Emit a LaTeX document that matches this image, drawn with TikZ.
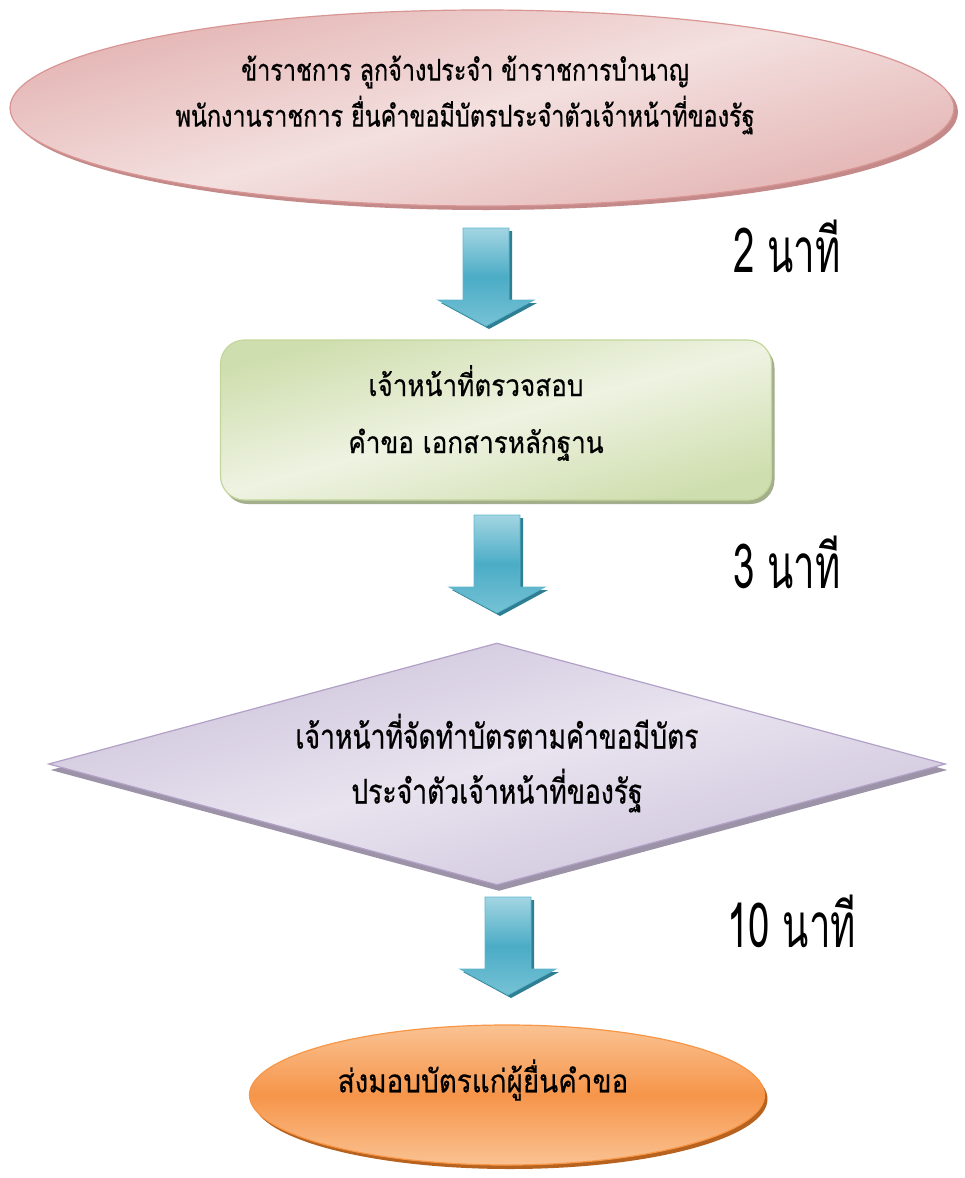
\documentclass[tikz,border=0pt]{standalone}
\usepackage{fontspec}
\newfontfamily\thaiA[Script=Thai,FakeStretch=0.78,FakeBold=0.6]{Loma}
\newfontfamily\thaiB[Script=Thai,FakeStretch=0.87,FakeBold=0.4]{Loma}
\newfontfamily\thaiC[Script=Thai,FakeStretch=0.62]{Loma}
\usetikzlibrary{shapes.geometric,shadows,calc}
\definecolor{roseedge}{HTML}{D99594}
\definecolor{roselight}{HTML}{F3E0DF}
\definecolor{rosemid}{HTML}{E3B3B2}
\definecolor{roseshadow}{HTML}{C48A89}
\definecolor{greenedge}{HTML}{C3D69B}
\definecolor{greenlight}{HTML}{EEF3E2}
\definecolor{greenmid}{HTML}{CFDEAE}
\definecolor{greenshadow}{HTML}{A3AF8C}
\definecolor{purpedge}{HTML}{B2A1C7}
\definecolor{purplight}{HTML}{E8E3EF}
\definecolor{purpmid}{HTML}{CCC1DA}
\definecolor{purpshadow}{HTML}{9D93A9}
\definecolor{orgedge}{HTML}{F79646}
\definecolor{orglight}{HTML}{FAC292}
\definecolor{orgmid}{HTML}{F6954A}
\definecolor{orgshadow}{HTML}{B8621F}
\definecolor{arrlight}{HTML}{A3D5E2}
\definecolor{arrmid}{HTML}{4BACC6}
\definecolor{arrlow}{HTML}{76C2D5}
\definecolor{arredge}{HTML}{5FB6CC}
\definecolor{arrshadow}{HTML}{2E7F93}
\tikzset{
  base/.style={inner sep=0pt, line width=1.2pt},
  topell/.style={base, ellipse, draw=roseedge, minimum width=944pt, minimum height=196pt,
    top color=rosemid, bottom color=rosemid, middle color=roselight, shading angle=15,
    drop shadow={shadow xshift=4pt, shadow yshift=-4pt, fill=roseshadow, opacity=1}},
  chkbox/.style={base, rectangle, rounded corners=24pt, draw=greenedge, minimum width=551pt, minimum height=160pt,
    top color=greenmid, bottom color=greenmid, middle color=greenlight, shading angle=15,
    drop shadow={shadow xshift=3pt, shadow yshift=-4pt, fill=greenshadow, opacity=1}},
  makebox/.style={base, diamond, draw=purpedge, minimum width=897pt, minimum height=242pt,
    top color=purpmid, bottom color=purpmid, middle color=purplight, shading angle=15,
    drop shadow={shadow xshift=2pt, shadow yshift=-6pt, fill=purpshadow, opacity=1}},
  endell/.style={base, ellipse, draw=orgedge, minimum width=515pt, minimum height=140pt,
    top color=orglight, bottom color=orglight, middle color=orgmid,
    drop shadow={shadow xshift=3pt, shadow yshift=-4pt, fill=orgshadow, opacity=1}},
  txtTop/.style={inner sep=0pt, align=center, font=\thaiA\fontsize{30}{46}\selectfont},
  txtDia/.style={inner sep=0pt, align=center, font=\thaiA\fontsize{34}{55}\selectfont},
  txtB/.style={inner sep=0pt, align=center, font=\thaiB\fontsize{30}{57}\selectfont},
  txtEnd/.style={inner sep=0pt, align=center, font=\thaiB\fontsize{32}{40}\selectfont},
  timelbl/.style={inner sep=0pt, anchor=base west, font=\thaiC\fontsize{62}{66}\selectfont},
  blockarrow/.pic={
    \fill[arrshadow] (-20,3) -- (26,3) -- (26,75) -- (51,75) -- (3,101) -- (-45,75) -- (-20,75) -- cycle;
    \path[shade, top color=arrlight, bottom color=arrlow, middle color=arrmid, draw=arredge, line width=0.8pt]
      (-23,0) -- (23,0) -- (23,72) -- (48,72) -- (0,98) -- (-48,72) -- (-23,72) -- cycle;
  }
}
\begin{document}
\begin{tikzpicture}[x=1pt, y=-1pt]
\fill[white] (0,0) rectangle (964,1178);
\useasboundingbox (0,0) rectangle (964,1178);

\node[topell] (n1) at (482,108) {};
\node[txtTop] (t1) at (465,95) {ข้าราชการ ลูกจ้างประจำ ข้าราชการบำนาญ\\พนักงานราชการ ยื่นคำขอมีบัตรประจำตัวเจ้าหน้าที่ของรัฐ};

\node[chkbox] (n2) at (496,420) {};
\node[txtB] (t2) at (476,413) {เจ้าหน้าที่ตรวจสอบ\\คำขอ เอกสารหลักฐาน};

\node[makebox] (n3) at (497,764) {};
\node[txtDia] (t3) at (497,763) {เจ้าหน้าที่จัดทำบัตรตามคำขอมีบัตร\\ประจำตัวเจ้าหน้าที่ของรัฐ};

\node[endell] (n4) at (507,1095) {};
\node[txtEnd] (t4) at (483,1080) {ส่งมอบบัตรแก่ผู้ยื่นคำขอ};

\coordinate (a1) at (486,228);
\coordinate (a2) at (497,515);
\coordinate (a3) at (508,897);
\pic at (a1) {blockarrow};
\pic at (a2) {blockarrow};
\pic at (a3) {blockarrow};

\node[timelbl] (l1) at (733,272) {2 นาที};
\node[timelbl] (l2) at (733,588) {3 นาที};
\node[timelbl] (l3) at (727,947) {10 นาที};
\end{tikzpicture}
\end{document}
